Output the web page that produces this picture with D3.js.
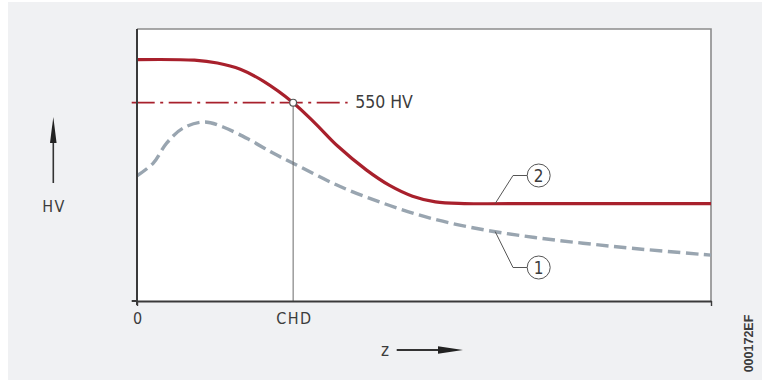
<!DOCTYPE html>
<html>
<head>
<meta charset="utf-8">
<script src="https://cdn.jsdelivr.net/npm/d3@7"></script>
<style>
  html, body { margin: 0; padding: 0; background: #ffffff; }
  svg { display: block; }
  text { font-family: "Liberation Sans Narrow", "DejaVu Sans Condensed", "Arial Narrow", sans-serif; fill: #3c3c3c; }
</style>
</head>
<body>
<svg id="chart" width="762" height="383"></svg>
<script>
// ---- data (z in relative depth units 0..100, hardness in HV) ----
const depthCurve2 = [0, 10, 14, 18, 22, 27.2, 31, 35, 40, 44, 48, 52, 57, 70, 85, 100];
const hardness2   = [626, 625, 620, 609, 588, 550, 514, 473, 431, 404, 385, 375, 372, 372, 372, 372];
const depthCurve1 = [0, 2.8, 5.2, 8.0, 11.8, 15.0, 19.7, 23.7, 27.2, 35.4, 43.9, 52.3, 60.8, 69.3, 77.7, 86.2, 100];
const hardness1   = [421, 443, 479, 505, 516, 507, 484, 461, 443, 402, 369, 343, 325, 312, 302, 293, 281];
const limitHV = 550;
const chdDepth = 27.2;
const xTickValues = [0, chdDepth, 100];
const xTickLabels = ["0", "CHD", ""];
const limitLabel = "550 HV";
const yLabel = "HV";
const xLabel = "z";
const calloutLabels = ["1", "2"];
const calloutAnchors = [62.4, 62.4];
const docCode = "000172EF";

(function () {
const svg = d3.select("#chart");
const pL = 137, pR = 711, pT = 29, pB = 301;
const red = "#a8202c", grey = "#99a5b0", axisCol = "#3a3a3a";

svg.append("rect").attr("x", 8).attr("y", 2).attr("width", 754).attr("height", 378).attr("fill", "#f0f1f3");
svg.append("rect").attr("x", pL).attr("y", pT).attr("width", pR - pL).attr("height", pB - pT).attr("fill", "#ffffff");

const x = d3.scaleLinear().domain([0, 100]).range([pL, pR]);
const y = d3.scaleLinear().domain([200, 680]).range([pB, pT]);

svg.append("path").attr("d", `M${pL},${pT}H${pR}V${pB}`).attr("fill", "none")
  .attr("stroke", "#8c8c8c").attr("stroke-width", 1.6);

const line = d3.line().x(d => x(d[0])).y(d => y(d[1])).curve(d3.curveCatmullRom.alpha(0.5));
svg.append("path").datum(depthCurve1.map((d, i) => [d, hardness1[i]]))
  .attr("d", line).attr("fill", "none").attr("stroke", grey)
  .attr("stroke-width", 3.4).attr("stroke-dasharray", "12.5,5.5");

svg.append("path").datum(depthCurve2.map((d, i) => [d, hardness2[i]]))
  .attr("d", line).attr("fill", "none").attr("stroke", red).attr("stroke-width", 3.2);

svg.append("line").attr("x1", x(0) - 5.3).attr("x2", x(chdDepth) + 54.5)
  .attr("y1", y(limitHV)).attr("y2", y(limitHV))
  .attr("stroke", red).attr("stroke-width", 1.8).attr("stroke-dasharray", "23,5.5,3,5.5");
svg.append("text").attr("x", x(chdDepth) + 62).attr("y", y(limitHV) + 5.6)
  .attr("font-size", 17.5).text(limitLabel);

svg.append("line").attr("x1", x(chdDepth)).attr("x2", x(chdDepth))
  .attr("y1", y(limitHV)).attr("y2", pB)
  .attr("stroke", "#6a6a6a").attr("stroke-width", 1);
svg.append("circle").attr("cx", x(chdDepth)).attr("cy", y(limitHV)).attr("r", 3.4)
  .attr("fill", "#ffffff").attr("stroke", "#555").attr("stroke-width", 1.2);

const xAxis = d3.axisBottom(x).tickValues(xTickValues)
  .tickFormat((d, i) => xTickLabels[i]).tickSizeInner(5).tickSizeOuter(0).tickPadding(7);
const gx = svg.append("g").attr("transform", `translate(0,${pB})`).call(xAxis);
gx.select(".domain").attr("stroke", axisCol).attr("stroke-width", 2);
gx.selectAll(".tick line").attr("stroke", axisCol).attr("stroke-width", 1.4)
  .filter(d => d === chdDepth).remove();
gx.selectAll(".tick text").attr("font-size", 16).attr("letter-spacing", 1.5)
  .attr("font-family", "\"Liberation Sans Narrow\", \"DejaVu Sans Condensed\", sans-serif")
  .attr("fill", "#3c3c3c").attr("dx", 0.75);
svg.append("line").attr("x1", pL - 5.3).attr("x2", pL).attr("y1", pB).attr("y2", pB)
  .attr("stroke", axisCol).attr("stroke-width", 2);
svg.append("line").attr("x1", pL).attr("x2", pL).attr("y1", pT).attr("y2", pB + 4)
  .attr("stroke", axisCol).attr("stroke-width", 2);

const curveInterp = (xs, ys, v) => {
  for (let i = 1; i < xs.length; i++) if (v <= xs[i]) {
    const t = (v - xs[i - 1]) / (xs[i] - xs[i - 1]); return ys[i - 1] + t * (ys[i] - ys[i - 1]);
  }
  return ys[ys.length - 1];
};
const calloutDefs = [
  { lab: calloutLabels[0], ax: x(calloutAnchors[0]), ay: y(curveInterp(depthCurve1, hardness1, calloutAnchors[0])), cy: 267.5 },
  { lab: calloutLabels[1], ax: x(calloutAnchors[1]), ay: y(curveInterp(depthCurve2, hardness2, calloutAnchors[1])), cy: 175.5 }
];
calloutDefs.forEach(c => {
  const cx = 538.7, r = 11.5, kx = 513;
  svg.append("path").attr("d", `M${c.ax},${c.ay}L${kx},${c.cy}H${cx - r}`)
    .attr("fill", "none").attr("stroke", "#555").attr("stroke-width", 1);
  svg.append("circle").attr("cx", cx).attr("cy", c.cy).attr("r", r)
    .attr("fill", "#ffffff").attr("stroke", "#555").attr("stroke-width", 1);
  svg.append("text").attr("x", cx).attr("y", c.cy + 6).attr("text-anchor", "middle")
    .attr("font-size", 17).text(c.lab);
});

svg.append("line").attr("x1", 53.3).attr("x2", 53.3).attr("y1", 183).attr("y2", 140)
  .attr("stroke", "#333").attr("stroke-width", 1.6);
svg.append("path").attr("d", "M53.3,117L56.6,143H50Z").attr("fill", "#222");
svg.append("text").attr("x", 54).attr("y", 212).attr("text-anchor", "middle")
  .attr("font-size", 16).attr("letter-spacing", 1.5).text(yLabel);

svg.append("text").attr("x", 385).attr("y", 356).attr("text-anchor", "middle")
  .attr("font-size", 17).text(xLabel);
svg.append("line").attr("x1", 396.7).attr("x2", 440).attr("y1", 350).attr("y2", 350)
  .attr("stroke", "#333").attr("stroke-width", 1.8);
svg.append("path").attr("d", "M463,350L438,346.3V353.7Z").attr("fill", "#222");

svg.append("text").attr("transform", "translate(752.5,343.5) rotate(-90)")
  .attr("text-anchor", "middle").attr("font-size", 12.5).attr("font-weight", "bold")
  .style("font-family", "\"Liberation Sans\", Arial, sans-serif").attr("fill", "#222").text(docCode);
})();
</script>
</body>
</html>
